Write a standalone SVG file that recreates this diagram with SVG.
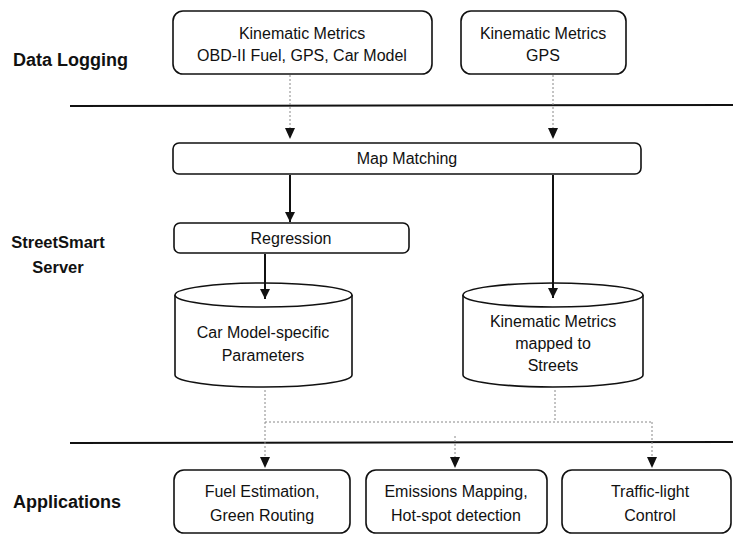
<svg xmlns="http://www.w3.org/2000/svg" width="733" height="536" viewBox="0 0 733 536">
<defs>
<style>
.box{fill:#fff;stroke:#111;stroke-width:1.6}
.t{font-family:"Liberation Sans",Arial,sans-serif;font-size:16px;fill:#111;text-anchor:middle}
.lbl{font-family:"Liberation Sans",Arial,sans-serif;font-size:18px;font-weight:bold;fill:#111}
.sep{stroke:#111;stroke-width:2;fill:none}
.solid{stroke:#111;stroke-width:2;fill:none}
.dot{stroke:#888;stroke-width:1;stroke-dasharray:2 2;fill:none}
.head{fill:#111}
</style>
<marker id="arr" viewBox="0 0 10 10" refX="10" refY="5" markerWidth="10" markerHeight="10" markerUnits="userSpaceOnUse" orient="auto">
<path d="M0,0 L10,5 L0,10 Z" fill="#111"/>
</marker>
</defs>
<rect width="733" height="536" fill="#fff"/>

<g id="labels">
<text class="lbl" x="13" y="66">Data Logging</text>
<text class="lbl" x="58" y="248" text-anchor="middle" style="font-size:16.5px">StreetSmart</text>
<text class="lbl" x="58" y="273" text-anchor="middle" style="font-size:16.5px">Server</text>
<text class="lbl" x="13" y="508">Applications</text>
</g>

<g id="separators">
<line class="sep" x1="70" y1="106" x2="733" y2="105"/>
<line class="sep" x1="70" y1="443" x2="733" y2="442"/>
</g>

<g id="dl1">
<rect class="box" x="173" y="11" width="259" height="63" rx="10"/>
<text class="t" x="302" y="39">Kinematic Metrics</text>
<text class="t" x="302" y="61">OBD-II Fuel, GPS, Car Model</text>
</g>
<g id="dl2">
<rect class="box" x="461" y="11" width="165" height="63" rx="10"/>
<text class="t" x="543" y="39">Kinematic Metrics</text>
<text class="t" x="543" y="61">GPS</text>
</g>

<g id="mapmatching">
<rect class="box" x="173" y="143" width="468" height="31" rx="6"/>
<text class="t" x="407" y="164">Map Matching</text>
</g>

<g id="regression">
<rect class="box" x="174" y="223" width="235" height="30" rx="6"/>
<text class="t" x="291" y="244">Regression</text>
</g>

<g id="db1">
<path class="box" d="M175,295 L175,375 A88.5,12 0 0 0 352,375 L352,295 A88.5,12 0 0 0 175,295 Z"/>
<path class="box" fill="none" d="M175,295 A88.5,12 0 0 0 352,295"/>
<text class="t" x="263" y="338">Car Model-specific</text>
<text class="t" x="263" y="361">Parameters</text>
</g>

<g id="db2">
<path class="box" d="M463,295 L463,375 A90,12 0 0 0 643,375 L643,295 A90,12 0 0 0 463,295 Z"/>
<path class="box" fill="none" d="M463,295 A90,12 0 0 0 643,295"/>
<text class="t" x="553" y="327">Kinematic Metrics</text>
<text class="t" x="553" y="349">mapped to</text>
<text class="t" x="553" y="371">Streets</text>
</g>

<g id="app1">
<rect class="box" x="174" y="470" width="176" height="63" rx="10"/>
<text class="t" x="262" y="497">Fuel Estimation,</text>
<text class="t" x="262" y="521">Green Routing</text>
</g>
<g id="app2">
<rect class="box" x="366" y="470" width="181" height="63" rx="10"/>
<text class="t" x="456" y="497">Emissions Mapping,</text>
<text class="t" x="456" y="521">Hot-spot detection</text>
</g>
<g id="app3">
<rect class="box" x="562" y="470" width="169" height="63" rx="10"/>
<text class="t" x="650" y="497">Traffic-light</text>
<text class="t" x="650" y="521">Control</text>
</g>

<g id="connectors">
<line class="dot" x1="290" y1="75" x2="290" y2="128"/>
<line class="dot" x1="553" y1="75" x2="553" y2="128"/>
<path class="head" d="M285,128 L295,128 L290,139 Z"/>
<path class="head" d="M548,128 L558,128 L553,139 Z"/>
<line class="solid" x1="290" y1="175" x2="290" y2="222" marker-end="url(#arr)"/>
<line class="solid" x1="265" y1="254" x2="265" y2="299" marker-end="url(#arr)"/>
<line class="solid" x1="553" y1="175" x2="553" y2="298" marker-end="url(#arr)"/>
<line class="dot" x1="265" y1="390" x2="265" y2="457"/>
<line class="dot" x1="555" y1="390" x2="555" y2="422"/>
<line class="dot" x1="265" y1="422" x2="652" y2="422"/>
<line class="dot" x1="652" y1="422" x2="652" y2="457"/>
<line class="dot" x1="455" y1="436" x2="455" y2="457"/>
<path class="head" d="M260,457 L270,457 L265,468 Z"/>
<path class="head" d="M450,457 L460,457 L455,468 Z"/>
<path class="head" d="M647,457 L657,457 L652,468 Z"/>
</g>
</svg>
